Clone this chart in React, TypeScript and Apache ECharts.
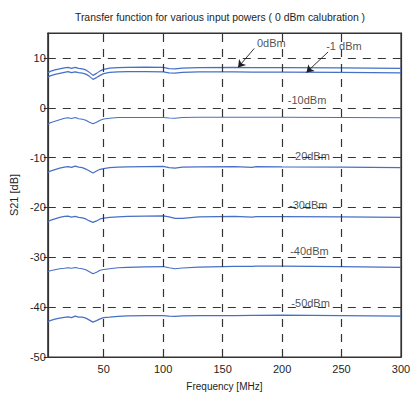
import { useEffect, useRef } from 'react';
import * as echarts from 'echarts';

// Frequency sweep points (MHz)
const freqMHz = [3, 5, 9, 13, 17, 20, 23, 26, 29, 32, 35, 38, 41, 44, 47, 50, 55, 62, 70, 85, 100, 105, 110, 116, 130, 160, 175, 178, 200, 250, 300];

// Measured S21 (dB) for each input power
const s21_0dBm = [7.0, 7.3, 7.6, 7.8, 8.0, 8.1, 7.9, 8.1, 7.9, 7.8, 7.6, 7.1, 6.5, 6.9, 7.4, 7.7, 7.95, 8.05, 8.1, 8.15, 8.1, 7.85, 7.8, 7.95, 8.05, 8.1, 8.05, 8.05, 8.05, 8.0, 7.9];
const s21_m1dBm = [6.1, 6.4, 6.7, 6.9, 7.1, 7.25, 7.05, 7.2, 7.05, 6.95, 6.75, 6.3, 5.7, 6.05, 6.5, 6.85, 7.1, 7.2, 7.25, 7.25, 7.2, 7.0, 6.95, 7.1, 7.2, 7.2, 7.15, 7.15, 7.15, 7.1, 7.0];
const s21_m10dBm = [-3.3, -3.0, -2.7, -2.4, -2.1, -2.0, -2.15, -1.95, -2.2, -2.3, -2.5, -2.9, -3.2, -2.9, -2.5, -2.25, -2.1, -1.95, -1.95, -1.95, -1.95, -2.05, -2.1, -1.95, -1.9, -1.9, -1.9, -1.9, -1.9, -1.95, -2.0];
const s21_m20dBm = [-13.0, -12.7, -12.4, -12.1, -11.9, -11.8, -11.95, -11.7, -11.9, -12.0, -12.3, -12.7, -13.1, -12.7, -12.35, -12.2, -12.0, -11.9, -11.85, -11.8, -11.75, -12.0, -12.1, -11.9, -11.85, -11.8, -11.95, -11.8, -11.85, -11.9, -12.0];
const s21_m30dBm = [-22.9, -22.6, -22.3, -22.0, -21.8, -21.75, -21.95, -21.8, -22.0, -22.1, -22.3, -22.7, -23.0, -22.7, -22.3, -22.15, -22.0, -21.9, -21.8, -21.75, -21.7, -21.9, -22.2, -22.2, -21.9, -21.8, -21.95, -21.85, -21.85, -21.9, -22.0];
const s21_m40dBm = [-32.9, -32.7, -32.5, -32.3, -32.2, -32.1, -32.2, -32.05, -32.2, -32.3, -32.5, -32.9, -33.3, -33.0, -32.6, -32.45, -32.3, -32.1, -32.0, -31.9, -31.85, -32.1, -32.3, -32.15, -31.95, -31.8, -31.8, -31.75, -31.75, -31.85, -32.0];
const s21_m50dBm = [-43.0, -42.7, -42.4, -42.2, -42.05, -41.95, -42.1, -41.8, -42.0, -42.0, -42.2, -42.6, -43.0, -42.7, -42.35, -42.1, -42.0, -41.85, -41.75, -41.7, -41.7, -41.8, -41.85, -41.75, -41.7, -41.7, -41.65, -41.65, -41.6, -41.7, -41.8];

const powerCurves = [s21_0dBm, s21_m1dBm, s21_m10dBm, s21_m20dBm, s21_m30dBm, s21_m40dBm, s21_m50dBm];
const powerNames = ['0dBm', '-1 dBm', '-10dBm', '-20dBm', '-30dBm', '-40dBm', '-50dBm'];

// Axis ticks
const xTicks = [50, 100, 150, 200, 250];
const xTickLabels = [50, 100, 150, 200, 250, 300];
const yMin = -50;
const yMax = 15;
const yStep = 10;

// Text labels placed next to the lower curves (freq, dB)
const levelLabels = ['-10dBm', '-20dBm', '-30dBm', '-40dBm', '-50dBm'];
const levelLabelFreq = [221, 224, 222, 223, 224];
const levelLabelDb = [1.5, -9.7, -19.5, -28.65, -39.2];

// Arrow annotations for the two top curves: text position, arrow tail, arrow head
const arrowTexts = ['0dBm', '-1 dBm'];
const arrowTextPos = [[191, 12.9], [252, 12.3]];
const arrowTail = [[176.6, 11.9], [238.7, 11.2]];
const arrowHead = [[163, 8.1], [220.5, 7.1]];

const FONT = 'Liberation Sans, Arial, sans-serif';
const INK = '#1e1e1e';
const CURVE = '#4670c8';

function buildOption() {
  const curveSeries: any[] = powerCurves.map((vals, k) => ({
    name: powerNames[k],
    type: 'line',
    data: freqMHz.map((f, i) => [f, vals[i]]),
    showSymbol: false,
    lineStyle: { color: CURVE, width: 1.2 },
  }));

  // vertical dashed grid lines at the frequency ticks
  curveSeries[0].markLine = {
    symbol: ['none', 'none'],
    label: { show: false },
    lineStyle: { color: '#333', width: 1.2, type: [8, 7] },
    data: xTicks.map((v) => ({ xAxis: v })),
  };

  const labelSeries = {
    name: 'labels',
    type: 'scatter',
    symbolSize: 1,
    itemStyle: { color: 'transparent' },
    data: [
      ...levelLabels.map((t, i) => ({ name: t, value: [levelLabelFreq[i], levelLabelDb[i]] })),
      ...arrowTexts.map((t, i) => ({ name: t, value: [arrowTextPos[i][0], arrowTextPos[i][1]] })),
    ],
    label: {
      show: true,
      position: 'inside',
      formatter: '{b}',
      color: INK,
      fontFamily: FONT,
      fontSize: 11,
    },
    markLine: {
      symbol: ['none', 'arrow'],
      symbolSize: 7,
      label: { show: false },
      lineStyle: { color: INK, width: 0.9, type: 'solid' },
      data: arrowTail.map((p, i) => [
        { coord: [p[0], p[1]] },
        { coord: [arrowHead[i][0], arrowHead[i][1]] },
      ]),
    },
  };

  return {
    animation: false,
    backgroundColor: '#ffffff',
    grid: {
      left: 40,
      top: 33,
      right: 13,
      bottom: 39,
      show: true,
      borderColor: '#333',
      borderWidth: 1.2,
    },
    graphic: [
      {
        type: 'text',
        x: 220,
        y: 17,
        style: {
          text: 'Transfer function for various input powers ( 0 dBm calubration )',
          fontFamily: FONT,
          fontSize: 10.4,
          fill: INK,
          textAlign: 'center',
          textVerticalAlign: 'middle',
        },
      },
    ],
    xAxis: [
      {
        type: 'value',
        min: 3,
        max: 300,
        position: 'bottom',
        name: 'Frequency [MHz]',
        nameLocation: 'middle',
        nameGap: 24,
        nameTextStyle: { color: INK, fontSize: 10, fontFamily: FONT },
        axisLine: { show: true, onZero: false, lineStyle: { color: '#333', width: 1.2 } },
        axisTick: { show: true, inside: true, length: 4, customValues: xTicks, lineStyle: { color: '#333' } },
        axisLabel: { show: true, customValues: xTickLabels, margin: 6, color: INK, fontSize: 11, fontFamily: FONT },
        splitLine: { show: false },
      },
      {
        type: 'value',
        min: 3,
        max: 300,
        position: 'top',
        axisLine: { show: true, onZero: false, lineStyle: { color: '#333', width: 1.2 } },
        axisTick: { show: true, inside: true, length: 4, customValues: xTicks, lineStyle: { color: '#333' } },
        axisLabel: { show: false },
        splitLine: { show: false },
      },
    ],
    yAxis: [
      {
        type: 'value',
        min: yMin,
        max: yMax,
        interval: yStep,
        position: 'left',
        name: 'S21 [dB]',
        nameLocation: 'middle',
        nameGap: 19,
        nameTextStyle: { color: INK, fontSize: 11, fontFamily: FONT },
        axisLine: { show: true, onZero: false, lineStyle: { color: '#333', width: 1.2 } },
        axisTick: { show: true, inside: false, length: 4, lineStyle: { color: '#333' } },
        axisLabel: {
          show: true,
          margin: 2,
          color: INK,
          fontSize: 11,
          fontFamily: FONT,
          showMaxLabel: false,
          formatter: (v: number) => (v > 10 ? '' : String(v)),
        },
        splitLine: { show: true, lineStyle: { color: '#333', width: 1.2, type: [8, 7] } },
      },
      {
        type: 'value',
        min: yMin,
        max: yMax,
        interval: yStep,
        position: 'right',
        axisLine: { show: true, onZero: false, lineStyle: { color: '#333', width: 1.2 } },
        axisTick: { show: true, inside: true, length: 4, lineStyle: { color: '#333' } },
        axisLabel: { show: false },
        splitLine: { show: false },
      },
    ],
    series: [...curveSeries, labelSeries],
  };
}

export default function App() {
  const ref = useRef<HTMLDivElement>(null);
  useEffect(() => {
    if (!ref.current) return;
    const chart = echarts.init(ref.current, undefined, { renderer: 'svg' });
    chart.setOption(buildOption() as any);
    return () => chart.dispose();
  }, []);
  return (
    <div
      ref={ref}
      style={{
        position: 'fixed',
        left: 0,
        top: 0,
        width: 414,
        height: 396,
        background: '#ffffff',
      }}
    />
  );
}
